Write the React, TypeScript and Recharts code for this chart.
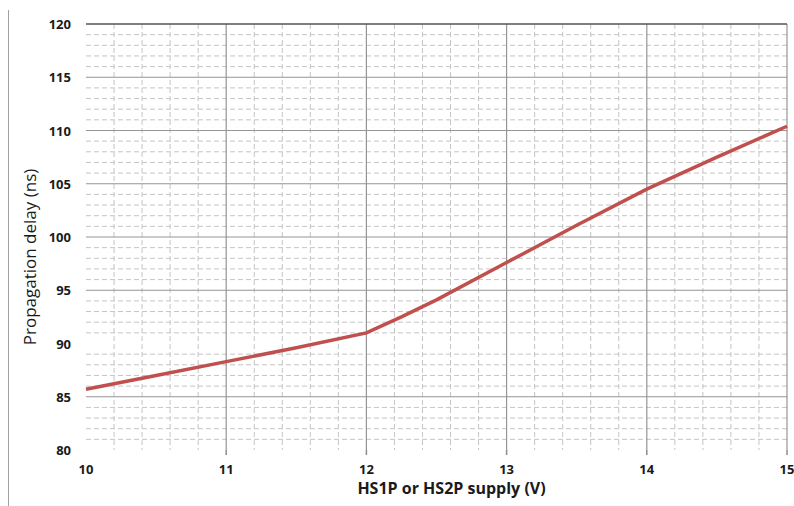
import React from 'react';
import { LineChart, Line, XAxis, YAxis, CartesianGrid, ReferenceLine } from 'recharts';

const supply = [10, 10.5, 11, 11.5, 12, 12.25, 12.5, 13, 13.5, 14, 14.5, 15];
const delay = [85.7, 87.0, 88.3, 89.6, 91.0, 92.5, 94.1, 97.6, 101.1, 104.5, 107.5, 110.4];

const xTicks = [10, 11, 12, 13, 14, 15];
const yTicks = [80, 85, 90, 95, 100, 105, 110, 115, 120];

const majorX = [11, 12, 13, 14, 15];
const majorY = [85, 95, 100, 105, 110, 115];
const minorX = [
  10.2, 10.4, 10.6, 10.8, 11.2, 11.4, 11.6, 11.8, 12.2, 12.4, 12.6, 12.8,
  13.2, 13.4, 13.6, 13.8, 14.2, 14.4, 14.6, 14.8,
];
const minorY = [
  81, 82, 83, 84, 86, 87, 88, 89, 91, 92, 93, 94, 96, 97, 98, 99,
  101, 102, 103, 104, 106, 107, 108, 109, 111, 112, 113, 114, 116, 117, 118, 119,
];

const data = supply.map((s, i) => ({ supply: s, delay: delay[i] }));

const FONT = '"Open Sans", "Noto Sans", sans-serif';

const YTick = (props: any) => {
  const { y, payload } = props;
  return (
    <text x={71} y={y + 5} textAnchor="end" fontFamily={FONT} fontSize={13} fontWeight={700} fill="#1a1a1a">
      {payload.value}
    </text>
  );
};

const XTick = (props: any) => {
  const { x, y, payload } = props;
  return (
    <g>
      {payload.value !== 10 && <line x1={x} x2={x} y1={y - 8} y2={y - 3} stroke="#8c8c8c" strokeWidth={1.5} />}
      <text x={x} y={y + 16} textAnchor="middle" fontFamily={FONT} fontSize={13} fontWeight={700} fill="#1a1a1a">
        {payload.value}
      </text>
    </g>
  );
};

export default function App() {
  return (
    <div style={{ position: 'absolute', left: 0, top: 0, width: 794, height: 506, background: '#fff' }}>
      <div style={{ position: 'absolute', left: 8, top: 10, width: 1, height: 496, background: '#a0a0a0' }} />
      <LineChart width={794} height={506} data={data} margin={{ top: 24, right: 7, bottom: 0, left: 0 }}>
        <CartesianGrid
          stroke="#c4c4c4"
          strokeDasharray="5 3"
          horizontalValues={minorY}
          verticalValues={minorX}
        />
        <CartesianGrid stroke="#959595" strokeWidth={1.2} horizontalValues={majorY} verticalValues={majorX} />
        <ReferenceLine y={120} stroke="#555" strokeWidth={1.5} />
        <XAxis
          dataKey="supply"
          type="number"
          domain={[10, 15]}
          ticks={xTicks}
          height={56}
          axisLine={false}
          tickLine={false}
          tick={<XTick />}
          interval={0}
          label={{
            value: 'HS1P or HS2P supply (V)',
            position: 'insideBottom',
            offset: 12,
            dx: 15,
            style: { fontFamily: FONT, fontSize: 16, fontWeight: 700, fill: '#1a1a1a' },
          }}
        />
        <YAxis
          type="number"
          domain={[80, 120]}
          ticks={yTicks}
          width={86}
          axisLine={false}
          tickLine={false}
          tick={<YTick />}
          interval={0}
          label={{
            value: 'Propagation delay (ns)',
            angle: -90,
            position: 'insideLeft',
            offset: 30,
            dy: 20,
            style: { fontFamily: FONT, fontSize: 17, fill: '#1a1a1a', textAnchor: 'middle' },
          }}
        />
        <Line
          type="linear"
          dataKey="delay"
          stroke="#c0504d"
          strokeWidth={3.5}
          dot={false}
          isAnimationActive={false}
        />
      </LineChart>
    </div>
  );
}
